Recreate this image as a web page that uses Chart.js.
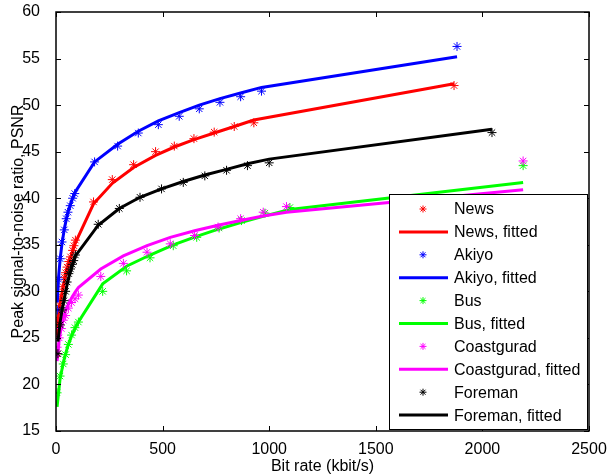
<!DOCTYPE html>
<html>
<head>
<meta charset="utf-8">
<script src="https://cdn.jsdelivr.net/npm/chart.js@4.4.1/dist/chart.umd.min.js"></script>
<style>
  html, body { margin: 0; padding: 0; background: #fff; }
  #wrap { width: 608px; height: 476px; }
</style>
</head>
<body>
<div id="wrap"><canvas id="psnrChart" width="608" height="476"></canvas></div>
<script>
// 各序列的码率 / PSNR 数据
const newsRate   = [3, 10, 18, 26, 33, 40, 45, 52, 60, 68, 78, 84, 91, 176, 264, 364, 467, 555, 647, 742, 836, 928, 1867];
const newsPsnr   = [23.3, 27.0, 28.5, 29.4, 30.5, 31.5, 32.0, 32.6, 33.2, 33.7, 34.4, 34.9, 35.5, 39.6, 42.0, 43.6, 45.0, 45.6, 46.4, 47.1, 47.7, 48.1, 52.1];
const newsFit    = [25.0, 27.3, 28.6, 29.6, 30.4, 31.2, 31.7, 32.3, 33.0, 33.6, 34.3, 34.7, 35.2, 39.4, 41.6, 43.3, 44.6, 45.5, 46.3, 47.0, 47.7, 48.4, 52.3];

const akiyoRate  = [6, 12, 20, 28, 39, 48, 56, 67, 78, 88, 181, 289, 386, 480, 578, 672, 769, 866, 964, 1881];
const akiyoPsnr  = [28.0, 31.3, 33.5, 35.3, 36.6, 37.8, 38.5, 39.2, 40.0, 40.5, 43.9, 45.6, 47.0, 47.9, 48.8, 49.6, 50.3, 50.9, 51.5, 56.3];
const akiyoFit   = [28.8, 31.5, 33.6, 35.1, 36.7, 37.7, 38.5, 39.3, 40.0, 40.6, 43.9, 45.8, 47.2, 48.3, 49.2, 50.0, 50.7, 51.3, 51.9, 55.2];

const busRate    = [5, 19, 34, 45, 58, 73, 89, 105, 219, 331, 441, 550, 660, 765, 870, 980, 1097, 2191];
const busPsnr    = [19.1, 20.9, 22.2, 23.2, 24.3, 25.3, 26.1, 26.7, 30.0, 32.2, 33.6, 34.9, 35.8, 36.8, 37.6, 38.4, 39.0, 43.5];
const busFit     = [17.6, 20.6, 22.3, 23.3, 24.3, 25.2, 26.0, 26.7, 30.8, 32.7, 33.9, 35.0, 35.9, 36.7, 37.4, 38.1, 38.8, 41.7];

const coastRate  = [5, 15, 25, 34, 45, 58, 73, 89, 105, 210, 316, 427, 536, 650, 760, 866, 972, 1081, 2191];
const coastPsnr  = [24.0, 25.0, 26.0, 26.9, 27.4, 28.2, 28.8, 29.2, 29.6, 31.6, 33.0, 34.2, 35.1, 36.0, 36.9, 37.8, 38.5, 39.1, 44.0];
const coastFit   = [22.5, 24.8, 26.2, 27.1, 27.9, 28.6, 29.3, 29.9, 30.4, 32.4, 33.8, 34.9, 35.8, 36.5, 37.1, 37.6, 38.1, 38.5, 40.9];

const foreRate   = [9, 20, 30, 38, 45, 52, 60, 68, 76, 83, 91, 198, 297, 394, 495, 597, 698, 800, 898, 1000, 2045];
const forePsnr   = [23.3, 26.4, 28.0, 29.0, 30.0, 31.0, 31.9, 32.4, 32.9, 33.3, 33.9, 37.2, 38.9, 40.1, 41.0, 41.7, 42.4, 43.0, 43.5, 43.8, 47.05];
const foreFit    = [24.6, 26.8, 28.2, 29.1, 29.9, 30.7, 31.5, 32.1, 32.7, 33.2, 33.8, 37.1, 38.9, 40.1, 41.0, 41.8, 42.5, 43.1, 43.7, 44.2, 47.4];

const seriesNames  = ['News', 'Akiyo', 'Bus', 'Coastgurad', 'Foreman'];
const seriesColors = ['#ff0000', '#0000ff', '#00ff00', '#ff00ff', '#000000'];
const seriesRates  = [newsRate, akiyoRate, busRate, coastRate, foreRate];
const seriesPsnr   = [newsPsnr, akiyoPsnr, busPsnr, coastPsnr, forePsnr];
const seriesFit    = [newsFit, akiyoFit, busFit, coastFit, foreFit];

const xTicks = [0, 500, 1000, 1500, 2000, 2500];
const yTicks = [15, 20, 25, 30, 35, 40, 45, 50, 55, 60];

const FONT = 'Liberation Sans, Arial, Helvetica, sans-serif';

const toPoints = (xs, ys) => xs.map((x, i) => ({ x: x, y: ys[i] }));

// 组装数据集：先画点，再画拟合线（后画的在上层）
const datasets = [];
seriesNames.forEach((name, i) => {
    datasets.push({
        label: name,
        data: toPoints(seriesRates[i], seriesPsnr[i]),
        showLine: false,
        pointStyle: 'star',
        pointRadius: 4.5,
        pointBorderWidth: 1,
        borderColor: seriesColors[i],
        backgroundColor: seriesColors[i],
        order: 20 - datasets.length
    });
    datasets.push({
        label: name + ', fitted',
        data: toPoints(seriesRates[i], seriesFit[i]),
        showLine: true,
        tension: 0,
        borderWidth: 3,
        pointRadius: 0,
        borderColor: seriesColors[i],
        backgroundColor: seriesColors[i],
        order: 20 - datasets.length
    });
});

// 坐标框与向内刻度（MATLAB 风格）
const boxPlugin = {
    id: 'boxPlugin',
    afterDraw(chart) {
        const { ctx, chartArea: a, scales } = chart;
        ctx.save();
        ctx.strokeStyle = '#000';
        ctx.lineWidth = 1;
        ctx.beginPath();
        xTicks.forEach(v => {
            const px = Math.round(scales.x.getPixelForValue(v)) + 0.5;
            ctx.moveTo(px, a.bottom); ctx.lineTo(px, a.bottom - 5);
            ctx.moveTo(px, a.top); ctx.lineTo(px, a.top + 5);
        });
        yTicks.forEach(v => {
            const py = Math.round(scales.y.getPixelForValue(v)) + 0.5;
            ctx.moveTo(a.left, py); ctx.lineTo(a.left + 5, py);
            ctx.moveTo(a.right, py); ctx.lineTo(a.right - 5, py);
        });
        ctx.stroke();
        ctx.lineWidth = 1.5;
        ctx.strokeRect(a.left, a.top, a.right - a.left, a.bottom - a.top);
        ctx.restore();
    }
};

// 图例框（右下角）
const legendPlugin = {
    id: 'legendPlugin',
    afterDraw(chart) {
        const { ctx, chartArea: a } = chart;
        const boxW = 198, rowH = 22.9;
        const boxH = rowH * datasets.length + 6;
        const bx = a.right - boxW - 2;
        const by = a.bottom - boxH - 2;
        ctx.save();
        ctx.fillStyle = '#fff';
        ctx.fillRect(bx, by, boxW, boxH);
        ctx.strokeStyle = '#000';
        ctx.lineWidth = 1;
        ctx.strokeRect(bx + 0.5, by + 0.5, boxW, boxH);
        ctx.font = '16px ' + FONT;
        ctx.textBaseline = 'middle';
        ctx.fillStyle = '#000';
        datasets.forEach((ds, i) => {
            const cy = by + 15 + i * rowH;
            if (ds.showLine) {
                ctx.strokeStyle = ds.borderColor;
                ctx.lineWidth = 3;
                ctx.beginPath();
                ctx.moveTo(bx + 10, cy);
                ctx.lineTo(bx + 59, cy);
                ctx.stroke();
            } else {
                ctx.strokeStyle = ds.borderColor;
                ctx.lineWidth = 1;
                Chart.helpers.drawPoint(ctx, { pointStyle: 'star', radius: 3.5, rotation: 0, borderWidth: 1 }, bx + 34, cy);
            }
            ctx.fillStyle = '#000';
            ctx.fillText(ds.label, bx + 65, cy + 1);
        });
        ctx.restore();
    }
};

const ctx = document.getElementById('psnrChart').getContext('2d');
new Chart(ctx, {
    type: 'line',
    data: { datasets: datasets },
    options: {
        responsive: false,
        animation: false,
        devicePixelRatio: 1,
        layout: { padding: { top: 12, right: 19, left: 0, bottom: 0 } },
        plugins: {
            legend: { display: false },
            tooltip: { enabled: false }
        },
        scales: {
            x: {
                type: 'linear',
                min: 0,
                max: 2500,
                afterBuildTicks: s => { s.ticks = xTicks.map(v => ({ value: v })); },
                afterFit: s => { s.height = 45; s.paddingLeft = 0; s.paddingRight = 0; },
                grid: { display: false },
                border: { display: false },
                ticks: { color: '#000', font: { family: FONT, size: 16 }, padding: 1, maxRotation: 0, callback: v => String(v) },
                title: { display: true, text: 'Bit rate (kbit/s)', color: '#000', font: { family: FONT, size: 16 }, padding: { top: 0, bottom: 0 } }
            },
            y: {
                type: 'linear',
                min: 15,
                max: 60,
                afterBuildTicks: s => { s.ticks = yTicks.map(v => ({ value: v })); },
                afterFit: s => { s.width = 56; s.paddingTop = 0; s.paddingBottom = 0; },
                grid: { display: false },
                border: { display: false },
                ticks: { color: '#000', font: { family: FONT, size: 16 }, padding: 8, callback: v => String(v) },
                title: { display: true, text: 'Peak signal-to-noise ratio, PSNR', color: '#000', font: { family: FONT, size: 16 }, padding: { top: 9, bottom: 0 } }
            }
        }
    },
    plugins: [boxPlugin, legendPlugin]
});
</script>
</body>
</html>
